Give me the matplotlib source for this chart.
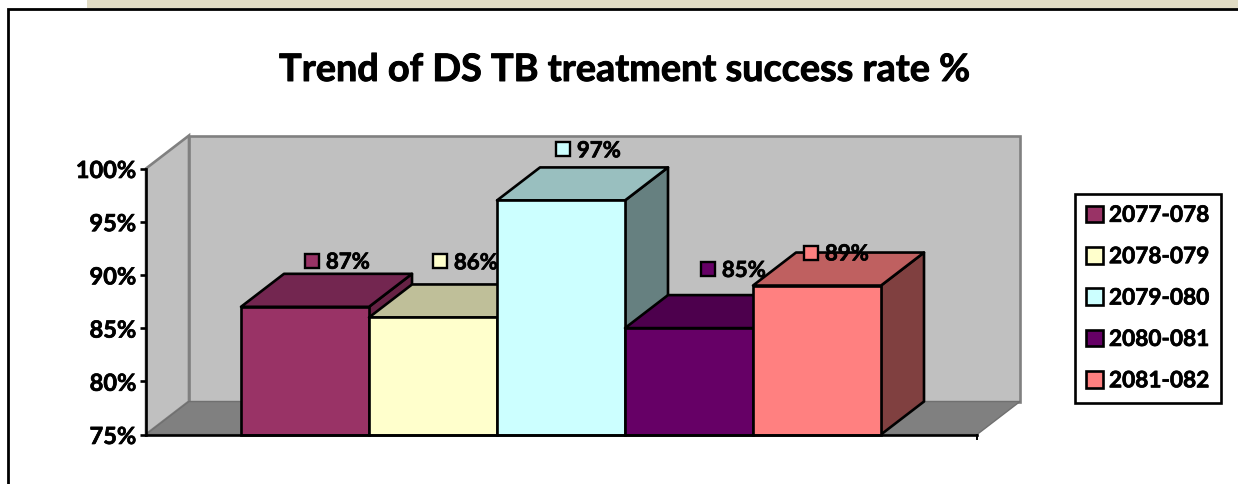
import matplotlib
matplotlib.use('Agg')
import matplotlib.pyplot as plt
import matplotlib.patheffects as pe
from matplotlib.patches import Polygon, Rectangle

plt.rcParams['font.family'] = ['Lato', 'DejaVu Sans']
plt.rcParams['font.weight'] = 'bold'

W, H = 1238, 485

title = 'Trend of DS TB treatment success rate %'
years = ['2077-078', '2078-079', '2079-080', '2080-081', '2081-082']
values = [87, 86, 97, 85, 89]
colors = ['#993366', '#ffffcc', '#ccffff', '#660066', '#ff8080']
top_colors = ['#732650', '#bfbf99', '#99bfbf', '#4d004d', '#bf6060']
side_colors = ['#662244', '#808066', '#668080', '#330033', '#804040']
y_ticks = [75, 80, 85, 90, 95, 100]

# where each data label sits, pixels from the front top centre of its bar
label_dx = [7, 7, 2, 19, -6]
label_dy = [46, 56, 51, 59, 33]

line_w = 1.9
# Lato bold is a bit lighter than the original face
heavy = [pe.withStroke(linewidth=0.5, foreground='black')]

fig = plt.figure(figsize=(W / 100, H / 100), dpi=100, facecolor='white')

# slide band and chart frame
fig.patches.append(Rectangle((87 / W, 1 - 9 / H), (W - 87) / W, 9 / H, transform=fig.transFigure,
                             facecolor='#e0dbc4', edgecolor='none'))
fig.patches.append(Rectangle((8 / W, -0.1), 1.1, 0.1 + 1 - 10 / H, transform=fig.transFigure,
                             facecolor='none', edgecolor='black', linewidth=2))

# front plane of the chart box: x 146..977, y 435..169 in pixels
ax = fig.add_axes([146 / W, 1 - 435.5 / H, 831 / W, 266 / H])
ax.patch.set_visible(False)
bar_px = 128
px_y = 266 / 25
ax.set_xlim((146 - 305) / bar_px, (977 - 305) / bar_px)
ax.set_ylim(75, 100)
depth_x = 43 / bar_px
depth_y = 33 / px_y
x0, x1 = ax.get_xlim()

# walls and floor
wall = dict(facecolor='#c0c0c0', edgecolor='#808080', linewidth=line_w, clip_on=False, zorder=1)
ax.add_patch(Polygon([(x0, 75), (x0 + depth_x, 75 + depth_y), (x0 + depth_x, 100 + depth_y), (x0, 100)], **wall))
ax.add_patch(Polygon([(x0 + depth_x, 75 + depth_y), (x1 + depth_x, 75 + depth_y),
                      (x1 + depth_x, 100 + depth_y), (x0 + depth_x, 100 + depth_y)], **wall))
ax.add_patch(Polygon([(x0, 75), (x1, 75), (x1 + depth_x, 75 + depth_y), (x0 + depth_x, 75 + depth_y)],
                     facecolor='#808080', edgecolor='#707070', linewidth=1, clip_on=False, zorder=1.5))

# bars, left to right so each one covers the side of the previous
handles = []
for i, v in enumerate(values):
    z = 2 + i
    l, r = i - 0.5, i + 0.5
    edge = dict(edgecolor='black', linewidth=line_w, joinstyle='round', clip_on=False, zorder=z)
    ax.add_patch(Polygon([(r, 75), (r + depth_x, 75 + depth_y), (r + depth_x, v + depth_y), (r, v)],
                         facecolor=side_colors[i], **edge))
    ax.add_patch(Polygon([(l, v), (r, v), (r + depth_x, v + depth_y), (l + depth_x, v + depth_y)],
                         facecolor=top_colors[i], **edge))
    b = ax.bar(i, v - 75, bottom=75, width=1, color=colors[i], edgecolor='black', linewidth=line_w,
               label=years[i], zorder=z, clip_on=False)
    handles.append(b[0])

# data labels with their colour key
for i, v in enumerate(values):
    mx = i + label_dx[i] / bar_px
    my = v + label_dy[i] / px_y
    ax.plot(mx, my, marker='s', markersize=10, markerfacecolor=colors[i], markeredgecolor='black',
            markeredgewidth=1.7, clip_on=False, zorder=10)
    t = ax.annotate(f'{v}%', (mx, my), xytext=(10, -1), textcoords='offset points', va='center', ha='left',
                    fontsize=16, fontweight='bold', annotation_clip=False, zorder=11)
    t.set_path_effects(heavy)

ax.set_xticks([])
ax.set_yticks(y_ticks)
ax.set_yticklabels([f'{t}%' for t in y_ticks], fontsize=17, fontweight='bold', path_effects=heavy)
ax.tick_params(axis='y', length=4, width=line_w, pad=3, color='black')
for s in ['top', 'right']:
    ax.spines[s].set_visible(False)
ax.spines['left'].set_linewidth(line_w)
ax.spines['bottom'].set_linewidth(line_w)
ax.spines['left'].set_zorder(9)
ax.spines['bottom'].set_zorder(9)
ax.plot([x1, x1], [75, 75 - 4 / px_y], color='black', linewidth=1.4, clip_on=False, zorder=9)

fig.text(624 / W, 1 - 71 / H, title, ha='center', va='center', fontsize=27.2, fontweight='bold',
         path_effects=[pe.withStroke(linewidth=0.7, foreground='black')])

leg = ax.legend(handles, years, loc='upper left', bbox_to_anchor=(1075 / W, 1 - 194.5 / H),
                bbox_transform=fig.transFigure, fontsize=16.3, frameon=True, fancybox=False, framealpha=1,
                edgecolor='black', handlelength=0.74, handleheight=0.74, handletextpad=0.26,
                labelspacing=0.9, borderpad=0.5, borderaxespad=0)
leg.get_frame().set_linewidth(line_w)
leg.set_zorder(12)
for txt in leg.get_texts():
    txt.set_path_effects(heavy)

fig.savefig('out.png', dpi=100)
